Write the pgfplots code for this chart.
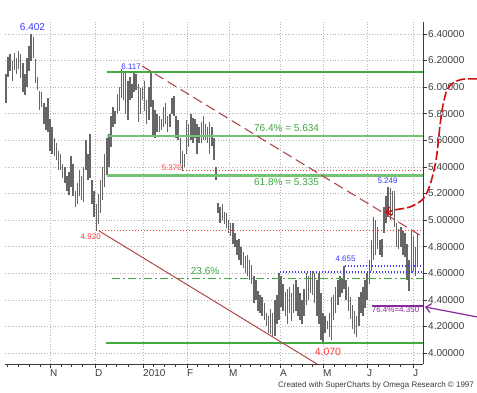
\documentclass[border=0pt]{standalone}
\usepackage{fontspec}
\setmainfont{Liberation Sans}
\usepackage{pgfplots}
\usepackage{pgfplotstable}
\pgfplotsset{compat=1.18}
\usetikzlibrary{arrows.meta}
\definecolor{gridc}{HTML}{B4B4B4}
\definecolor{barc}{HTML}{666666}
\definecolor{fibt}{HTML}{3FA33F}
\definecolor{fibl}{HTML}{74C274}
\definecolor{fibd}{HTML}{44AA44}
\definecolor{redd}{HTML}{FF3B3B}
\definecolor{blu}{HTML}{3A3AFF}
\definecolor{brn}{HTML}{B04848}
\definecolor{arrowred}{HTML}{CC1010}
\definecolor{purp}{HTML}{8B2A9E}
\definecolor{axc}{HTML}{3C3C3C}

\pgfplotstableread{
i hi lo
0 6.10 5.88
1 6.23 6.08
2 6.25 6.12
3 6.20 6.05
4 6.26 6.13
5 6.22 6.10
6 6.27 6.14
7 6.25 6.07
8 6.18 5.96
9 6.10 5.94
10 6.22 6.00
11 6.31 6.12
12 6.402 6.20
13 6.38 6.22
14 6.21 6.03
15 6.08 5.98
16 5.97 5.83
17 5.96 5.85
18 5.88 5.72
19 5.85 5.68
20 5.92 5.66
21 5.76 5.52
22 5.70 5.50
23 5.62 5.48
24 5.58 5.45
25 5.52 5.38
26 5.50 5.38
27 5.42 5.32
28 5.40 5.28
29 5.33 5.22
30 5.36 5.19
31 5.48 5.25
32 5.42 5.18
33 5.22 5.10
34 5.28 5.12
35 5.38 5.18
36 5.33 5.15
37 5.40 5.14
38 5.60 5.38
39 5.50 5.30
40 5.65 5.32
41 5.30 5.12
42 5.22 5.02
43 5.12 4.92
44 5.20 4.97
45 5.30 5.05
46 5.40 5.15
47 5.50 5.25
48 5.62 5.34
49 5.65 5.40
50 5.78 5.55
51 5.85 5.70
52 5.82 5.72
53 5.95 5.80
54 6.00 5.82
55 6.14 5.92
56 6.12 5.90
57 6.11 5.80
58 6.05 5.75
59 6.08 5.90
60 6.02 5.92
61 6.11 5.96
62 6.10 5.98
63 6.02 5.74
64 5.99 5.80
65 6.00 5.90
66 6.05 5.82
67 5.90 5.72
68 6.00 5.75
69 6.117 5.85
70 5.90 5.64
71 5.83 5.62
72 5.80 5.66
73 5.78 5.66
74 5.76 5.68
75 5.85 5.70
76 5.88 5.72
77 5.78 5.66
78 5.80 5.70
79 5.92 5.80
80 5.93 5.78
81 5.78 5.62
82 5.75 5.60
83 5.62 5.42
84 5.52 5.37
85 5.50 5.40
86 5.75 5.50
87 5.72 5.55
88 5.80 5.60
89 5.77 5.58
90 5.76 5.62
91 5.72 5.50
92 5.70 5.58
93 5.74 5.58
94 5.78 5.60
95 5.72 5.60
96 5.70 5.58
97 5.74 5.50
98 5.70 5.56
99 5.62 5.45
100 5.40 5.30
101 5.13 5.05
102 5.10 4.98
103 5.12 5.00
104 5.06 4.97
105 5.05 4.94
106 5.00 4.90
107 4.98 4.88
108 4.98 4.82
109 4.90 4.80
110 4.85 4.74
111 4.86 4.70
112 4.80 4.66
113 4.76 4.64
114 4.73 4.60
115 4.74 4.58
116 4.70 4.55
117 4.66 4.52
118 4.58 4.38
119 4.55 4.40
120 4.47 4.32
121 4.44 4.30
122 4.42 4.28
123 4.38 4.25
124 4.30 4.20
125 4.28 4.15
126 4.33 4.14
127 4.30 4.12
128 4.40 4.13
129 4.44 4.22
130 4.60 4.25
131 4.58 4.35
132 4.52 4.32
133 4.46 4.28
134 4.48 4.22
135 4.50 4.30
136 4.45 4.24
137 4.52 4.30
138 4.55 4.32
139 4.50 4.28
140 4.45 4.25
141 4.40 4.22
142 4.48 4.28
143 4.60 4.36
144 4.58 4.40
145 4.60 4.45
146 4.62 4.44
147 4.60 4.38
148 4.55 4.28
149 4.60 4.22
150 4.45 4.10
151 4.30 4.07
152 4.28 4.15
153 4.24 4.18
154 4.30 4.12
155 4.42 4.10
156 4.44 4.25
157 4.50 4.30
158 4.55 4.36
159 4.58 4.42
160 4.56 4.45
161 4.655 4.48
162 4.55 4.40
163 4.50 4.32
164 4.42 4.26
165 4.36 4.18
166 4.32 4.14
167 4.28 4.12
168 4.42 4.20
169 4.46 4.30
170 4.50 4.28
171 4.55 4.34
172 4.60 4.40
173 4.70 4.52
174 4.85 4.62
175 5.02 4.70
176 5.00 4.74
177 4.95 4.78
178 4.85 4.74
179 4.86 4.72
180 5.10 4.90
181 5.18 4.98
182 5.249 5.02
183 5.24 5.00
184 5.22 5.04
185 5.22 4.95
186 4.98 4.80
187 4.93 4.78
188 4.95 4.80
189 4.92 4.74
190 4.90 4.72
191 4.82 4.55
192 4.70 4.47
193 4.92 4.60
194 4.88 4.62
195 4.80 4.58
196 4.90 4.66
}\bars

\begin{document}
\begin{tikzpicture}
\useasboundingbox (0,0) rectangle (477pt,393pt);
\begin{axis}[
  at={(5pt,29pt)}, anchor=south west,
  scale only axis, width=418pt, height=342pt,
  xmin=-0.476, xmax=198.57, ymin=3.918, ymax=6.49,
  axis x line*=bottom, axis y line*=right,
  axis line style={axc, line width=0.8pt, -},
  clip=false,
  xtick={20.95,42.38,65.24,86.19,106.19,130.48,150.95,171.9,193.8},
  xticklabels={N,D,2010,F,M,A,M,J,J},
  minor xtick={0.6,5.9,11.1,16.2,26.5,31.3,36.5,47.6,52.7,58.2,70,75.2,80.5,91,96.2,101,111.4,116.2,121,125.7,135.7,141,145.7,156.2,161.4,166.7,177.1,182.4,187.6},
  ytick={4,4.2,4.4,4.6,4.8,5,5.2,5.4,5.6,5.8,6,6.2,6.4},
  yticklabels={4.00000,4.20000,4.40000,4.60000,4.80000,5.00000,5.20000,5.40000,5.60000,5.80000,6.00000,6.20000,6.40000},
  tick align=outside,
  major tick length=4pt, minor tick length=3pt,
  tick style={axc, line width=0.8pt},
  grid=major,
  major grid style={gridc, line width=0.7pt, dash pattern=on 0.8pt off 2pt},
  xticklabel style={anchor=north west, inner sep=0pt, yshift=-1pt, font=\fontsize{10}{12}\selectfont, text=axc},
  yticklabel style={anchor=west, inner sep=0pt, xshift=1pt, font=\fontsize{10}{12}\selectfont, text=axc},
]
% price bars (high-low)
\addplot[draw=none, mark=none, error bars/.cd, y dir=minus, y explicit, error mark=none,
  error bar style={draw=barc, line width=1.5pt}]
  table[x=i, y=hi, y error minus expr=\thisrow{hi}-\thisrow{lo}] {\bars};
\addplot[draw=none, mark=none] coordinates {(0,5)};

% Fibonacci / support lines
\addplot[draw=fibd, line width=2pt, mark=none] coordinates {(48.1,6.115) (198.57,6.115)};
\addplot[draw=fibl, line width=2.2pt, mark=none] coordinates {(48.1,5.634) (198.57,5.634)};
\addplot[draw=fibl, line width=2.2pt, mark=none] coordinates {(48.1,5.335) (198.57,5.335)};
\addplot[draw=fibd, line width=1.4pt, mark=none] coordinates {(47.6,4.075) (198.57,4.075)};
\addplot[draw=fibd, line width=1.2pt, mark=none, dash pattern=on 8pt off 3pt on 2pt off 3pt] coordinates {(50.5,4.563) (198.57,4.563)};
\addplot[draw=redd, line width=1.3pt, mark=none, dash pattern=on 1.3pt off 1.7pt] coordinates {(84.3,5.372) (198.57,5.372)};
\addplot[draw=redd, line width=1.3pt, mark=none, dash pattern=on 1.3pt off 1.7pt] coordinates {(44.3,4.92) (198.57,4.92)};
\addplot[draw=blu, line width=1.1pt, mark=none, dash pattern=on 1.2pt off 1.8pt] coordinates {(130.5,4.61) (198.57,4.61)};
\addplot[draw=blu, line width=1.1pt, mark=none, dash pattern=on 1.2pt off 1.8pt] coordinates {(161.4,4.655) (198.57,4.655)};
\addplot[draw=purp, line width=1.8pt, mark=none] coordinates {(174.3,4.355) (198.57,4.355)};
% trend lines
\addplot[draw=brn, line width=1.1pt, mark=none, dash pattern=on 10pt off 5pt] coordinates {(64.8,6.159) (198.57,4.873)};
\addplot[draw=brn, line width=1pt, mark=none] coordinates {(44.3,4.919) (148.1,3.918)};
% arrows
\addplot[draw=arrowred, line width=1.6pt, mark=none, dash pattern=on 9pt off 3pt, smooth, -{Straight Barb[length=5pt,width=9pt]}]
  coordinates {(224.3,6.062) (217.6,6.060) (212.9,6.032) (210,5.979) (208.1,5.866) (206.7,5.716) (204.8,5.452) (201.9,5.264) (198.6,5.159) (192.4,5.099) (185.2,5.077) (180.5,5.054)};
\addplot[draw=purp, line width=1.2pt, mark=none, -{Straight Barb[length=5pt,width=9pt]}] coordinates {(224.3,4.272) (199.5,4.347)};

% labels
\node[blu, font=\fontsize{10}{12}\selectfont] at (axis cs:12.6,6.453) {6.402};
\node[blu, anchor=east, inner sep=0pt, font=\fontsize{8}{10}\selectfont] at (axis cs:64.3,6.152) {6.117};
\node[redd, anchor=east, inner sep=0pt, font=\fontsize{8}{10}\selectfont] at (axis cs:83.8,5.392) {5.370};
\node[redd, anchor=east, inner sep=0pt, font=\fontsize{8}{10}\selectfont] at (axis cs:45.2,4.873) {4.920};
\node[blu, font=\fontsize{8}{10}\selectfont] at (axis cs:181.7,5.295) {5.249};
\node[blu, font=\fontsize{8}{10}\selectfont] at (axis cs:161.7,4.708) {4.655};
\node[fibt, font=\fontsize{10}{12}\selectfont] at (axis cs:133.6,5.693) {76.4\% = 5.634};
\node[fibt, font=\fontsize{10}{12}\selectfont] at (axis cs:133.6,5.287) {61.8\% = 5.335};
\node[fibt, font=\fontsize{10}{12}\selectfont] at (axis cs:94.8,4.618) {23.6\%};
\node[redd, font=\fontsize{10.5}{12}\selectfont] at (axis cs:153.3,4.009) {4.070};
\node[purp, font=\fontsize{8}{10}\selectfont] at (axis cs:185.5,4.325) {76.4\%=4.350};
\node[axc, font=\fontsize{8}{10}\selectfont] at (axis cs:176.2,3.760) {Created with SuperCharts by Omega Research © 1997};
\end{axis}
\end{tikzpicture}
\end{document}
